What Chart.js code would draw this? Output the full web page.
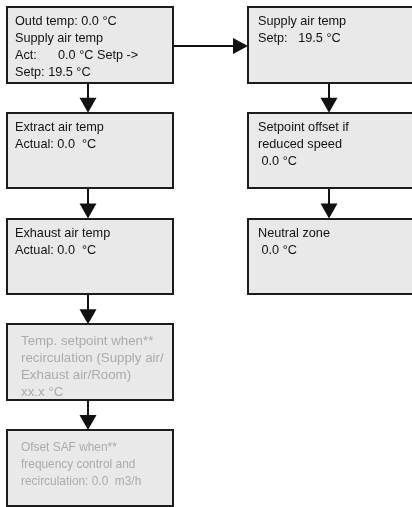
<!DOCTYPE html>
<html>
<head>
<meta charset="utf-8">
<script src="https://cdn.jsdelivr.net/npm/chart.js@4.4.1/dist/chart.umd.min.js"></script>
<style>
  html, body { margin: 0; padding: 0; background: #fff; }
  #wrap { width: 412px; height: 507px; }
</style>
</head>
<body>
<div id="wrap"><canvas id="flow" width="412" height="507"></canvas></div>
<script>
// node data
const nodeLines = [
    ['Outd temp: 0.0 °C', 'Supply air temp', 'Act:      0.0 °C Setp ->', 'Setp: 19.5 °C'],
    ['Extract air temp', 'Actual: 0.0  °C'],
    ['Exhaust air temp', 'Actual: 0.0  °C'],
    ['Temp. setpoint when**', 'recirculation (Supply air/', 'Exhaust air/Room)', 'xx.x °C'],
    ['Ofset SAF when**', 'frequency control and', 'recirculation: 0.0  m3/h'],
    ['Supply air temp', 'Setp:   19.5 °C'],
    ['Setpoint offset if', 'reduced speed', ' 0.0 °C'],
    ['Neutral zone', ' 0.0 °C'],
];
const nodeColumn = [0, 0, 0, 0, 0, 1, 1, 1];
const nodeRow = [0, 1, 2, 3, 4, 0, 1, 2];
const nodeOptional = [false, false, false, true, true, false, false, false];
const links = [[0, 1], [1, 2], [2, 3], [3, 4], [0, 5], [5, 6], [6, 7]];

// layout (canvas units)
const COL_LEFT = [7, 248];
const ROW_TOP = 7;
const ROW_STEP = 105.75;
const BOX_W = 166;
const BOX_H = 75.5;
// the scanned source uses slightly different type sizes per box
const FONT_SIZE = [12.7, 12.7, 12.7, 13.3, 11.9, 12.7, 12.7, 12.7];

function boxOf(i) {
    return { x: COL_LEFT[nodeColumn[i]], y: ROW_TOP + nodeRow[i] * ROW_STEP };
}

function arrowHead(ctx, x, y, dir) {
    ctx.beginPath();
    if (dir === 'down') {
        ctx.moveTo(x, y);
        ctx.lineTo(x - 8.5, y - 15);
        ctx.lineTo(x + 8.5, y - 15);
    } else {
        ctx.moveTo(x, y);
        ctx.lineTo(x - 15, y - 8);
        ctx.lineTo(x - 15, y + 8);
    }
    ctx.closePath();
    ctx.fill();
}

const flowPlugin = {
    id: 'flow',
    afterDatasetsDraw(chart) {
        const { ctx, scales } = chart;
        const sx = (v) => scales.x.getPixelForValue(v);
        const sy = (v) => scales.y.getPixelForValue(v);
        ctx.save();

        // connectors
        ctx.strokeStyle = '#111';
        ctx.fillStyle = '#111';
        ctx.lineWidth = 2;
        links.forEach(([a, b]) => {
            const A = boxOf(a);
            const B = boxOf(b);
            if (nodeColumn[a] === nodeColumn[b]) {
                const x = Math.round(sx(A.x + 81));
                const y1 = sy(A.y + BOX_H);
                const y2 = sy(B.y);
                ctx.beginPath();
                ctx.moveTo(x, y1);
                ctx.lineTo(x, y2 - 10);
                ctx.stroke();
                arrowHead(ctx, x, y2, 'down');
            } else {
                const y = Math.round(sy(A.y + 39));
                const x1 = sx(A.x + BOX_W);
                const x2 = sx(B.x);
                ctx.beginPath();
                ctx.moveTo(x1, y);
                ctx.lineTo(x2 - 10, y);
                ctx.stroke();
                arrowHead(ctx, x2, y, 'right');
            }
        });

        // boxes
        nodeLines.forEach((lines, i) => {
            const b = boxOf(i);
            const x = sx(b.x);
            const y = Math.round(sy(b.y));
            const w = sx(b.x + BOX_W) - x;
            const h = Math.round(sy(b.y + BOX_H)) - y;
            ctx.fillStyle = '#e9e9e9';
            ctx.fillRect(x, y, w, h);
            ctx.strokeStyle = '#1c1c1c';
            ctx.lineWidth = 2;
            ctx.strokeRect(x, y, w, h);

            ctx.font = FONT_SIZE[i] + 'px "Liberation Sans", Arial, sans-serif';
            ctx.textBaseline = 'alphabetic';
            ctx.fillStyle = nodeOptional[i] ? '#ababab' : '#111';
            const tx = x + (nodeOptional[i] ? 14 : nodeColumn[i] === 1 ? 10 : 8);
            const ty = y + (nodeOptional[i] ? 21 : 18);
            lines.forEach((line, k) => {
                ctx.fillText(line, tx, ty + k * 17);
            });
        });

        ctx.restore();
    },
};

new Chart(document.getElementById('flow'), {
    type: 'scatter',
    data: {
        datasets: [
            {
                label: 'nodes',
                data: nodeLines.map((_, i) => boxOf(i)),
                pointRadius: 0,
            },
        ],
    },
    options: {
        responsive: false,
        animation: false,
        devicePixelRatio: 1,
        layout: { padding: 0 },
        plugins: {
            legend: { display: false },
            tooltip: { enabled: false },
        },
        scales: {
            x: { type: 'linear', min: 0, max: 412, display: false },
            y: { type: 'linear', min: 0, max: 507, reverse: true, display: false },
        },
    },
    plugins: [flowPlugin],
});
</script>
</body>
</html>
